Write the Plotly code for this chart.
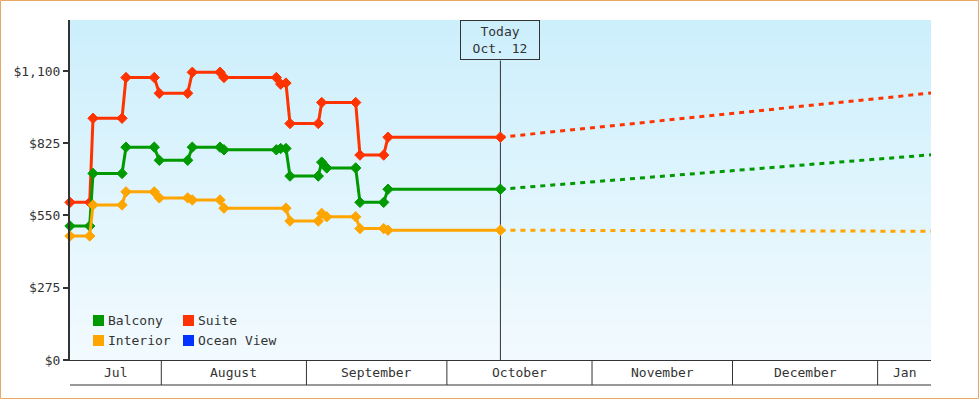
import plotly.graph_objects as go
import pandas as pd

# ---------------- data ----------------
TODAY = "2023-10-12 10:20"
X_RANGE = ["2023-07-12 12:00", "2024-01-12 09:36"]

suite_dates = ["2023-07-12 12:00", "2023-07-16 17:00", "2023-07-17 10:00", "2023-07-23 14:40",
               "2023-07-24 11:00", "2023-07-30 12:00", "2023-07-31 13:45", "2023-08-06 15:20",
               "2023-08-07 15:00", "2023-08-13 13:00", "2023-08-14 09:20", "2023-08-25 13:30",
               "2023-08-26 12:00", "2023-08-27 15:00", "2023-08-28 11:45", "2023-09-03 12:45",
               "2023-09-04 06:15", "2023-09-11 12:30", "2023-09-12 10:30", "2023-09-17 12:00",
               "2023-09-18 10:00", TODAY]
suite_prices = [600, 600, 920, 920, 1075, 1075, 1015, 1015, 1095, 1095, 1075, 1075,
                1050, 1054, 900, 900, 980, 980, 780, 780, 848, 848]

balcony_dates = ["2023-07-12 12:00", "2023-07-16 17:00", "2023-07-17 10:00", "2023-07-23 14:40",
                 "2023-07-24 11:00", "2023-07-30 12:00", "2023-07-31 13:45", "2023-08-06 15:20",
                 "2023-08-07 15:00", "2023-08-13 13:00", "2023-08-14 09:20", "2023-08-25 13:30",
                 "2023-08-26 12:00", "2023-08-27 15:00", "2023-08-28 11:45", "2023-09-03 12:45",
                 "2023-09-04 06:15", "2023-09-05 08:00", "2023-09-11 12:30", "2023-09-12 10:30",
                 "2023-09-17 12:00", "2023-09-18 10:00", TODAY]
balcony_prices = [510, 510, 710, 710, 810, 810, 760, 760, 810, 810, 800, 800,
                  805, 805, 700, 700, 753, 731, 731, 600, 600, 650, 650]

interior_dates = ["2023-07-12 12:00", "2023-07-16 17:00", "2023-07-17 10:00", "2023-07-23 14:40",
                  "2023-07-24 11:00", "2023-07-30 12:00", "2023-07-31 13:45", "2023-08-06 15:20",
                  "2023-08-07 15:00", "2023-08-13 13:00", "2023-08-14 09:20", "2023-08-27 15:00",
                  "2023-08-28 11:45", "2023-09-03 12:45", "2023-09-04 06:15", "2023-09-05 08:00",
                  "2023-09-11 12:30", "2023-09-12 10:30", "2023-09-17 12:00", "2023-09-18 10:00",
                  TODAY]
interior_prices = [472, 472, 590, 590, 640, 640, 617, 617, 609, 609, 578, 578,
                   529, 529, 558, 545, 545, 500, 500, 494, 494]

forecast_dates = [TODAY, "2024-01-12 09:36"]
suite_forecast = [848, 1016]
balcony_forecast = [650, 781]
interior_forecast = [494, 490]

y_tickvals = [0, 275, 550, 825, 1100]
y_ticktext = ["$0", "$275", "$550", "$825", "$1,100"]

month_starts = ["2023-08-01", "2023-09-01", "2023-10-01", "2023-11-01", "2023-12-01", "2024-01-01"]
month_labels = ["Jul", "August", "September", "October", "November", "December", "Jan"]

legend_names = ["Balcony", "Suite", "Interior", "Ocean View"]
legend_colors = ["#009900", "#ff3300", "#ffa500", "#0033ff"]

# ---------------- styling ----------------
FONT = "DejaVu Sans Mono"
TXT = "#333333"
W, H = 980, 400
ML, MR, MT, MB = 70, 49, 20, 40
PW, PH = W - ML - MR, H - MT - MB


def px_x(px):
    return (px - ML) / PW


def px_y(py):
    return (MT + PH - py) / PH


series = [
    ("Suite", suite_dates, suite_prices, suite_forecast, "#ff3300"),
    ("Balcony", balcony_dates, balcony_prices, balcony_forecast, "#009900"),
    ("Interior", interior_dates, interior_prices, interior_forecast, "#ffa500"),
]

fig = go.Figure()
for name, d, p, fc, col in series:
    fig.add_trace(go.Scatter(
        x=forecast_dates, y=fc, mode="lines", name=name + " forecast",
        line=dict(color=col, width=3, dash="5px,5px"), showlegend=False,
        cliponaxis=False, hoverinfo="skip"))
for name, d, p, fc, col in series:
    fig.add_trace(go.Scatter(
        x=d, y=p, mode="lines+markers", name=name,
        line=dict(color=col, width=3),
        marker=dict(symbol="diamond", size=8, color=col, line=dict(width=1, color=col)),
        showlegend=False, cliponaxis=False))

shapes = []
# background gradient
top_c = (204, 239, 252)
bot_c = (242, 250, 254)
N = 68
for i in range(N):
    t = i / (N - 1)
    c = tuple(round(top_c[k] + (bot_c[k] - top_c[k]) * t) for k in range(3))
    shapes.append(dict(type="rect", xref="paper", yref="paper", x0=0, x1=1,
                       y0=1 - (i + 1) / N, y1=1 - i / N, layer="below",
                       line=dict(width=0), fillcolor="rgb(%d,%d,%d)" % c))

# month band at bottom
band_y = -25 / PH
for m in month_starts:
    shapes.append(dict(type="line", xref="x", yref="paper", x0=m, x1=m, y0=0, y1=band_y,
                       line=dict(color=TXT, width=1)))
shapes.append(dict(type="line", xref="paper", yref="paper", x0=0, x1=1, y0=band_y, y1=band_y,
                   line=dict(color=TXT, width=1)))

# today line
shapes.append(dict(type="line", xref="x", yref="paper", x0=TODAY, x1=TODAY, y0=0,
                   y1=px_y(60.5), line=dict(color=TXT, width=1), layer="below"))

# legend squares
leg_pos = [(93, 315), (183, 315), (93, 335), (183, 335)]
for (lx, ly), col in zip(leg_pos, legend_colors):
    shapes.append(dict(type="rect", xref="paper", yref="paper",
                       x0=px_x(lx), x1=px_x(lx + 11), y0=px_y(ly + 11), y1=px_y(ly),
                       fillcolor=col, line=dict(width=0)))

# outer orange border
shapes.append(dict(type="rect", xref="paper", yref="paper",
                   x0=px_x(0.5), x1=px_x(978.5), y0=px_y(398.5), y1=px_y(0.5),
                   line=dict(color="#e9a863", width=1), fillcolor="rgba(0,0,0,0)"))

annotations = []
# month labels centered on visible parts
bounds = [pd.Timestamp(X_RANGE[0])] + [pd.Timestamp(m) for m in month_starts] + [pd.Timestamp(X_RANGE[1])]
for i, lab in enumerate(month_labels):
    a, b = bounds[i], bounds[i + 1]
    mid = a + (b - a) / 2
    annotations.append(dict(x=mid.strftime("%Y-%m-%d %H:%M"), xref="x", y=band_y / 2, yref="paper",
                            text=lab, showarrow=False, xanchor="center", yanchor="middle",
                            font=dict(family=FONT, size=13, color=TXT)))

# legend text
for (lx, ly), name in zip(leg_pos, legend_names):
    annotations.append(dict(x=px_x(lx + 12.5), y=px_y(ly + 5.7), xref="paper", yref="paper",
                            text=name, showarrow=False, xanchor="left", yanchor="middle",
                            font=dict(family=FONT, size=13, color=TXT)))

# today box
annotations.append(dict(x=TODAY, xref="x", y=1, yref="paper", yanchor="top", xanchor="center",
                        text="Today<br>Oct. 12", showarrow=False, width=78, height=38,
                        borderwidth=1, bordercolor=TXT, borderpad=0,
                        bgcolor="rgba(0,0,0,0)",
                        font=dict(family=FONT, size=13, color=TXT)))

fig.update_layout(
    width=W, height=H,
    margin=dict(l=ML, r=MR, t=MT, b=MB),
    paper_bgcolor="white", plot_bgcolor="white",
    showlegend=False,
    shapes=shapes, annotations=annotations,
    font=dict(family=FONT, size=13, color=TXT),
    xaxis=dict(type="date", range=X_RANGE, showgrid=False, zeroline=False,
               showticklabels=False, ticks="", showline=True, linecolor=TXT, linewidth=1),
    yaxis=dict(range=[0, 1294], showgrid=False, zeroline=False, showline=True,
               linecolor=TXT, linewidth=2, ticks="outside", ticklen=5, tickwidth=2,
               tickcolor=TXT, tickvals=y_tickvals, ticktext=y_ticktext,
               tickfont=dict(family=FONT, size=13, color=TXT)),
    hovermode=False,
)

fig.write_html("out.html", config={"displayModeBar": False},
               post_script="document.body.style.margin='0';document.body.style.overflow='hidden';")
